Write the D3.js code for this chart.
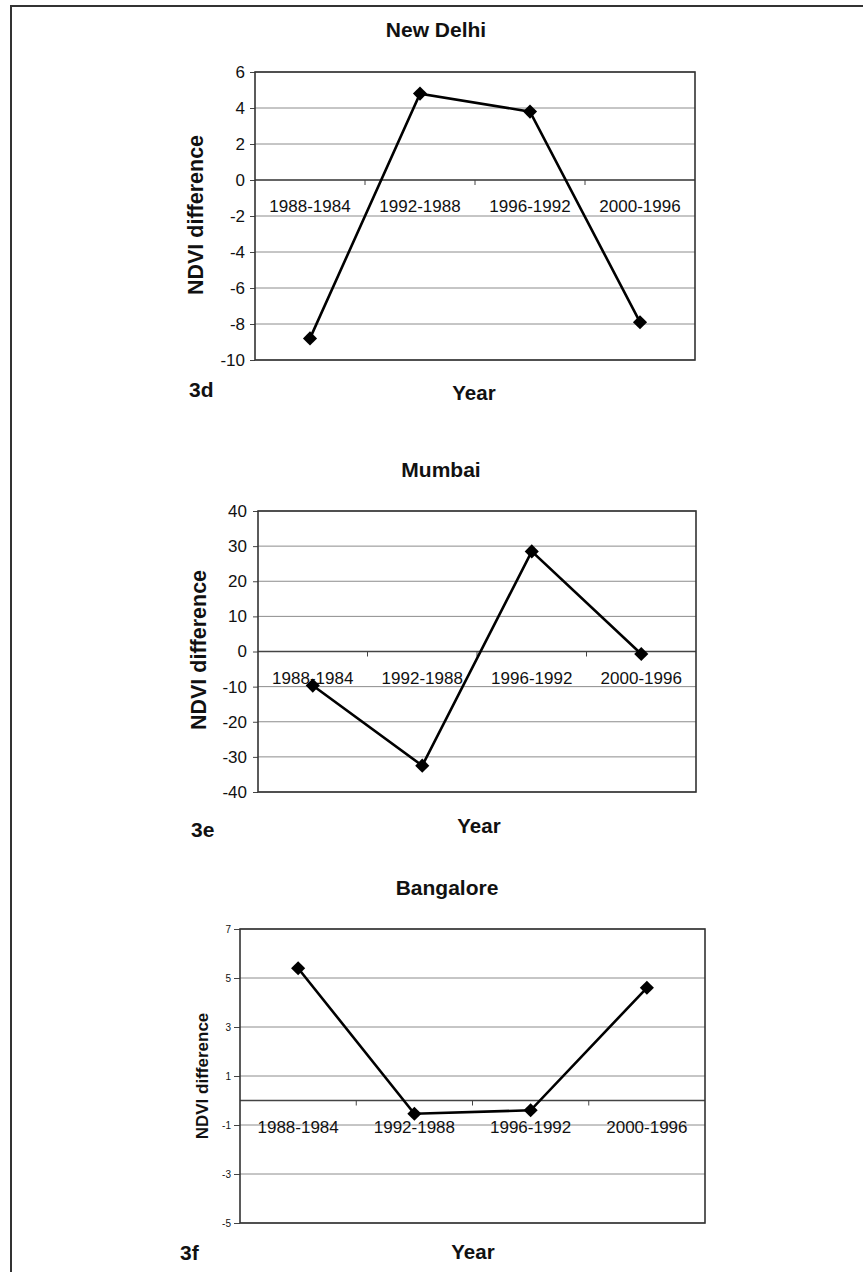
<!DOCTYPE html>
<html>
<head>
<meta charset="utf-8">
<script src="https://cdn.jsdelivr.net/npm/d3@7"></script>
<style>
  html, body { margin: 0; padding: 0; background: #fff; }
  svg { display: block; font-family: "Liberation Sans", Arial, sans-serif; }
</style>
</head>
<body>
<svg id="fig" width="863" height="1272"></svg>
<script>
// NDVI difference between successive survey years, per city
const categories = ["1988-1984", "1992-1988", "1996-1992", "2000-1996"];

const delhiValues = [-8.8, 4.8, 3.8, -7.9];
const mumbaiValues = [-9.7, -32.5, 28.5, -0.7];
const bangaloreValues = [5.4, -0.54, -0.4, 4.6];

const delhiTicks = [-10, -8, -6, -4, -2, 0, 2, 4, 6];
const mumbaiTicks = [-40, -30, -20, -10, 0, 10, 20, 30, 40];
const bangaloreTicks = [-5, -3, -1, 1, 3, 5, 7];

const panels = [
  { title: "New Delhi", tag: "3d", values: delhiValues, ticks: delhiTicks,
    x0: 255, x1: 695, y0: 72, y1: 360, tickFont: 17, tickLen: 5, tickPad: 5, yTitleFont: 21.5,
    titleX: 436, titleY: 37, yTitleX: 195, yTitleY: 215,
    yearX: 474, yearY: 400, tagX: 189, tagY: 397 },
  { title: "Mumbai", tag: "3e", values: mumbaiValues, ticks: mumbaiTicks,
    x0: 258, x1: 696, y0: 511, y1: 792, tickFont: 17, tickLen: 5, tickPad: 6, yTitleFont: 21.5,
    titleX: 441, titleY: 477, yTitleX: 198, yTitleY: 650,
    yearX: 479, yearY: 833, tagX: 191, tagY: 837 },
  { title: "Bangalore", tag: "3f", values: bangaloreValues, ticks: bangaloreTicks,
    x0: 240, x1: 705, y0: 929, y1: 1223, tickFont: 10, tickLen: 6, tickPad: 3, yTitleFont: 17,
    titleX: 447, titleY: 895, yTitleX: 202, yTitleY: 1076,
    yearX: 473, yearY: 1259, tagX: 180, tagY: 1260 }
];

const svg = d3.select("#fig");

// page frame
svg.append("path")
  .attr("d", "M11,1272 V6 H863")
  .attr("fill", "none")
  .attr("stroke", "#333")
  .attr("stroke-width", 2);

panels.forEach(p => {
  const g = svg.append("g");
  const ext = d3.extent(p.ticks);

  const x = d3.scaleBand().domain(categories).range([p.x0, p.x1]);
  const y = d3.scaleLinear().domain(ext).range([p.y1, p.y0]);

  // horizontal gridlines
  g.append("g").selectAll("line")
    .data(p.ticks)
    .join("line")
    .attr("x1", p.x0).attr("x2", p.x1)
    .attr("y1", d => y(d)).attr("y2", d => y(d))
    .attr("stroke", "#8c8c8c")
    .attr("stroke-width", 1);

  // value axis
  const yAxis = g.append("g")
    .attr("transform", `translate(${p.x0},0)`)
    .call(d3.axisLeft(y).tickValues(p.ticks).tickSize(p.tickLen).tickPadding(p.tickPad)
      .tickFormat(d => String(d)));
  yAxis.select(".domain").remove();
  yAxis.selectAll(".tick line").attr("stroke", "#444");
  yAxis.selectAll("text")
    .attr("fill", "#111")
    .style("font-size", p.tickFont + "px")
    .style("font-family", "'Liberation Sans', Arial, sans-serif");

  // category axis along zero
  const xAxis = g.append("g")
    .attr("transform", `translate(0,${y(0)})`)
    .call(d3.axisBottom(x).tickSize(0).tickPadding(20));
  xAxis.select(".domain").remove();
  xAxis.selectAll("text")
    .attr("fill", "#111")
    .style("font-size", "17px")
    .style("font-family", "'Liberation Sans', Arial, sans-serif");

  g.append("line")
    .attr("x1", p.x0).attr("x2", p.x1)
    .attr("y1", y(0)).attr("y2", y(0))
    .attr("stroke", "#444")
    .attr("stroke-width", 1.3);

  // category boundary ticks
  g.append("g").selectAll("line")
    .data(categories.slice(1))
    .join("line")
    .attr("x1", d => x(d)).attr("x2", d => x(d))
    .attr("y1", y(0)).attr("y2", y(0) + 5)
    .attr("stroke", "#444");

  // plot border
  g.append("rect")
    .attr("x", p.x0).attr("y", p.y0)
    .attr("width", p.x1 - p.x0).attr("height", p.y1 - p.y0)
    .attr("fill", "none")
    .attr("stroke", "#333")
    .attr("stroke-width", 1.6);

  // series line
  const pts = categories.map((c, i) => [x(c) + x.bandwidth() / 2, y(p.values[i])]);
  g.append("path")
    .attr("d", d3.line()(pts))
    .attr("fill", "none")
    .attr("stroke", "#000")
    .attr("stroke-width", 2.6);

  // diamond markers
  g.append("g").selectAll("path")
    .data(pts)
    .join("path")
    .attr("d", d3.symbol(d3.symbolSquare, 100)())
    .attr("transform", d => `translate(${d[0]},${d[1]}) rotate(45)`)
    .attr("fill", "#000");

  // titles and labels
  g.append("text")
    .attr("x", p.titleX).attr("y", p.titleY)
    .attr("text-anchor", "middle")
    .attr("font-weight", "bold")
    .attr("font-size", 21)
    .attr("fill", "#111")
    .text(p.title);

  g.append("text")
    .attr("transform", `translate(${p.yTitleX},${p.yTitleY}) rotate(-90)`)
    .attr("text-anchor", "middle")
    .attr("dy", "0.35em")
    .attr("font-weight", "bold")
    .attr("font-size", p.yTitleFont)
    .attr("fill", "#111")
    .text("NDVI difference");

  g.append("text")
    .attr("x", p.yearX).attr("y", p.yearY)
    .attr("text-anchor", "middle")
    .attr("font-weight", "bold")
    .attr("font-size", 20.5)
    .attr("fill", "#111")
    .text("Year");

  g.append("text")
    .attr("x", p.tagX).attr("y", p.tagY)
    .attr("font-weight", "bold")
    .attr("font-size", 21)
    .attr("fill", "#111")
    .text(p.tag);
});
</script>
</body>
</html>
